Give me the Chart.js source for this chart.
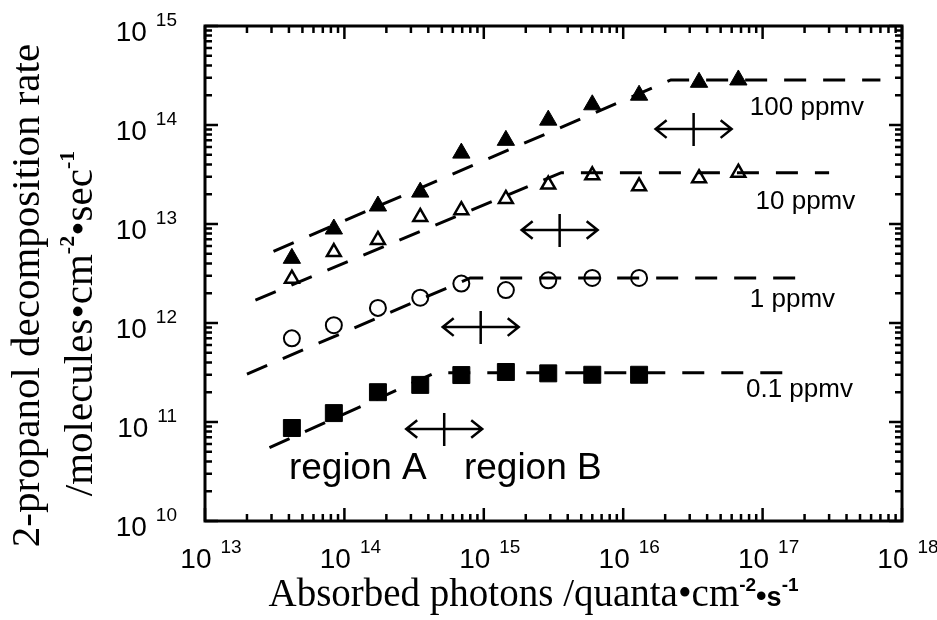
<!DOCTYPE html>
<html>
<head>
<meta charset="utf-8">
<script src="https://cdn.jsdelivr.net/npm/chart.js@4"></script>
<style>
  body { margin: 0; background: #fff; }
</style>
</head>
<body>
<canvas id="myChart" width="937" height="620"></canvas>
<script>
// absorbed photons (quanta cm-2 s-1) at each measurement
const photons = [4.2e13, 8.4e13, 1.74e14, 3.5e14, 6.9e14, 1.44e15, 2.9e15, 6e15, 1.3e16, 3.5e16, 6.7e16];

// decomposition rates for each 2-propanol concentration
const rate100 = [4.5e12, 8.9e12, 1.52e13, 2.1e13, 5.2e13, 7.0e13, 1.12e14, 1.6e14, 2.0e14, 2.7e14, 2.85e14];
const rate10 = [2.8e12, 5.2e12, 6.9e12, 1.18e13, 1.38e13, 1.79e13, 2.5e13, 3.1e13, 2.4e13, 2.9e13, 3.3e13];
const rate1 = [7.0e11, 9.5e11, 1.42e12, 1.8e12, 2.5e12, 2.15e12, 2.7e12, 2.85e12, 2.85e12];
const rate01 = [8.7e10, 1.23e11, 2.0e11, 2.37e11, 2.98e11, 3.2e11, 3.1e11, 3.0e11, 3.0e11];

// dashed fit lines (start, knee, end)
const fit100X = [3.1e13, 2.2e16, 7e17];
const fit100Y = [5.3e12, 2.85e14, 2.85e14];
const fit10X = [2.3e13, 3.6e15, 3e17];
const fit10Y = [1.7e12, 3.3e13, 3.3e13];
const fit1X = [2.0e13, 8.0e14, 1.9e17];
const fit1Y = [3.05e11, 2.85e12, 2.85e12];
const fit01X = [2.9e13, 4.5e14, 1.6e17];
const fit01Y = [5.5e10, 3.15e11, 3.15e11];

// region A / region B boundary arrows
const arrowX = [3.2e16, 3.5e15, 9.5e14, 5.2e14];
const arrowY = [9.1e13, 8.7e12, 9.1e11, 8.5e10];

// series labels
const seriesLabels = ["100 ppmv", "10 ppmv", "1 ppmv", "0.1 ppmv"];
const labelX = [8.1e16, 8.9e16, 8.1e16, 7.6e16];
const labelY = [1.5e14, 1.66e13, 1.7e12, 2.1e11];

const regionLabels = ["region A", "region B"];
const regionX = [4.0e13, 7.2e14];
const regionY = [3.4e10, 3.4e10];

// axis decades
const xDecades = [13, 14, 15, 16, 17, 18];
const yDecades = [10, 11, 12, 13, 14, 15];

const pts = (xs, ys) => ys.map((y, i) => ({ x: xs[i], y: y }));

const SANS = "'Liberation Sans', Arial, sans-serif";
const SERIF = "'Liberation Serif', 'Times New Roman', serif";

// draws a run of text pieces, each with its own font and vertical shift
function drawRich(ctx, parts, x, y, align) {
  let total = 0;
  parts.forEach((p) => {
    ctx.font = p.font;
    p.w = ctx.measureText(p.t).width;
    total += p.w + (p.gap || 0);
  });
  let cx = align === "right" ? x - total : align === "center" ? x - total / 2 : x;
  ctx.textAlign = "left";
  ctx.textBaseline = "alphabetic";
  parts.forEach((p) => {
    ctx.font = p.font;
    cx += p.gap || 0;
    ctx.fillText(p.t, cx, y + (p.dy || 0));
    cx += p.w;
  });
}

function pow10(exp) {
  return [
    { t: "10", font: "28px " + SANS },
    { t: String(exp), font: "19px " + SANS, dy: -15, gap: 9 },
  ];
}

const framePlugin = {
  id: "framePlugin",
  afterDatasetsDraw(chart) {
    const ctx = chart.ctx;
    const xs = chart.scales.x;
    const ys = chart.scales.y;
    ctx.save();
    ctx.strokeStyle = "#000";
    ctx.fillStyle = "#000";
    ctx.lineWidth = 2.5;
    // double-headed arrows with a vertical bar
    arrowX.forEach((v, i) => {
      const cx = xs.getPixelForValue(v);
      const cy = ys.getPixelForValue(arrowY[i]);
      const hw = 38, ah = 11;
      ctx.beginPath();
      ctx.moveTo(cx - hw, cy);
      ctx.lineTo(cx + hw, cy);
      ctx.moveTo(cx - hw + ah, cy - ah * 0.8);
      ctx.lineTo(cx - hw, cy);
      ctx.lineTo(cx - hw + ah, cy + ah * 0.8);
      ctx.moveTo(cx + hw - ah, cy - ah * 0.8);
      ctx.lineTo(cx + hw, cy);
      ctx.lineTo(cx + hw - ah, cy + ah * 0.8);
      ctx.moveTo(cx, cy - 16);
      ctx.lineTo(cx, cy + 17);
      ctx.stroke();
    });
    // labels
    ctx.textAlign = "left";
    ctx.textBaseline = "middle";
    ctx.font = "26px " + SANS;
    seriesLabels.forEach((s, i) => {
      ctx.fillText(s, xs.getPixelForValue(labelX[i]), ys.getPixelForValue(labelY[i]));
    });
    ctx.font = "37px " + SANS;
    regionLabels.forEach((s, i) => {
      ctx.fillText(s, xs.getPixelForValue(regionX[i]), ys.getPixelForValue(regionY[i]));
    });
    ctx.restore();
  },
  afterDraw(chart) {
    const ctx = chart.ctx;
    const a = chart.chartArea;
    const xs = chart.scales.x;
    const ys = chart.scales.y;
    ctx.save();
    ctx.strokeStyle = "#000";
    ctx.fillStyle = "#000";
    ctx.lineWidth = 3;
    ctx.strokeRect(a.left, a.top, a.right - a.left, a.bottom - a.top);

    // inward ticks on all four sides
    ctx.lineWidth = 2.5;
    ctx.beginPath();
    xDecades.forEach((e) => {
      for (let m = 1; m <= 9; m++) {
        if (e === 18 && m > 1) break;
        const px = xs.getPixelForValue(m * Math.pow(10, e));
        const len = m === 1 ? 13 : 7;
        ctx.moveTo(px, a.bottom);
        ctx.lineTo(px, a.bottom - len);
        ctx.moveTo(px, a.top);
        ctx.lineTo(px, a.top + len);
      }
    });
    yDecades.forEach((e) => {
      for (let m = 1; m <= 9; m++) {
        if (e === 15 && m > 1) break;
        const py = ys.getPixelForValue(m * Math.pow(10, e));
        const len = m === 1 ? 13 : 7;
        ctx.moveTo(a.left, py);
        ctx.lineTo(a.left + len, py);
        ctx.moveTo(a.right, py);
        ctx.lineTo(a.right - len, py);
      }
    });
    ctx.stroke();

    // tick labels
    xDecades.forEach((e) => {
      drawRich(ctx, pow10(e), xs.getPixelForValue(Math.pow(10, e)) + 6, a.bottom + 47, "center");
    });
    yDecades.forEach((e) => {
      drawRich(ctx, pow10(e), a.left - 28, ys.getPixelForValue(Math.pow(10, e)) + 15, "right");
    });

    // x axis title
    drawRich(ctx, [
      { t: "Absorbed photons /quanta\u2022cm", font: "39px " + SERIF },
      { t: "-2", font: "bold 19px " + SANS, dy: -15 },
      { t: "\u2022", font: "bold 30px " + SANS },
      { t: "s", font: "bold 27px " + SANS },
      { t: "-1", font: "bold 19px " + SANS, dy: -15 },
    ], (a.left + a.right) / 2 - 20, a.bottom + 85, "center");

    // y axis title (two rotated lines)
    const cy = (a.top + a.bottom) / 2 + 22;
    ctx.translate(39, cy);
    ctx.rotate(-Math.PI / 2);
    drawRich(ctx, [{ t: "2-propanol decomposition rate", font: "41px " + SERIF }], 0, 0, "center");
    ctx.rotate(Math.PI / 2);
    ctx.translate(53, 28);
    ctx.rotate(-Math.PI / 2);
    drawRich(ctx, [
      { t: "/molecules\u2022cm", font: "41px " + SERIF },
      { t: "-2", font: "bold 22px " + SERIF, dy: -18 },
      { t: "\u2022sec", font: "41px " + SERIF },
      { t: "-1", font: "bold 22px " + SERIF, dy: -18 },
    ], 0, 0, "center");
    ctx.restore();
  },
};

const markerBase = { showLine: false, borderColor: "#000" };
const fitBase = {
  showLine: true,
  borderColor: "#000",
  borderWidth: 3,
  borderDash: [22, 17],
  pointRadius: 0,
  fill: false,
  tension: 0,
};

new Chart(document.getElementById("myChart").getContext("2d"), {
  type: "line",
  data: {
    datasets: [
      { ...markerBase, label: "100 ppmv", data: pts(photons, rate100), pointStyle: "triangle", pointRadius: 10, backgroundColor: "#000", borderWidth: 1 },
      { ...markerBase, label: "10 ppmv", data: pts(photons, rate10), pointStyle: "triangle", pointRadius: 8, backgroundColor: "rgba(0,0,0,0)", borderWidth: 2.5 },
      { ...markerBase, label: "1 ppmv", data: pts(photons, rate1), pointStyle: "circle", pointRadius: 8, backgroundColor: "rgba(0,0,0,0)", borderWidth: 2 },
      { ...markerBase, label: "0.1 ppmv", data: pts(photons, rate01), pointStyle: "rect", pointRadius: 12, backgroundColor: "#000", borderWidth: 1 },
      { ...fitBase, label: "fit 100", data: pts(fit100X, fit100Y) },
      { ...fitBase, label: "fit 10", data: pts(fit10X, fit10Y) },
      { ...fitBase, label: "fit 1", data: pts(fit1X, fit1Y) },
      { ...fitBase, label: "fit 0.1", data: pts(fit01X, fit01Y) },
    ],
  },
  options: {
    responsive: false,
    animation: false,
    layout: { padding: { left: 205, right: 35, top: 26, bottom: 99 } },
    plugins: {
      legend: { display: false },
      tooltip: { enabled: false },
    },
    scales: {
      x: { type: "logarithmic", min: 1e13, max: 1e18, display: false },
      y: { type: "logarithmic", min: 1e10, max: 1e15, display: false },
    },
  },
  plugins: [framePlugin],
});
</script>
</body>
</html>
